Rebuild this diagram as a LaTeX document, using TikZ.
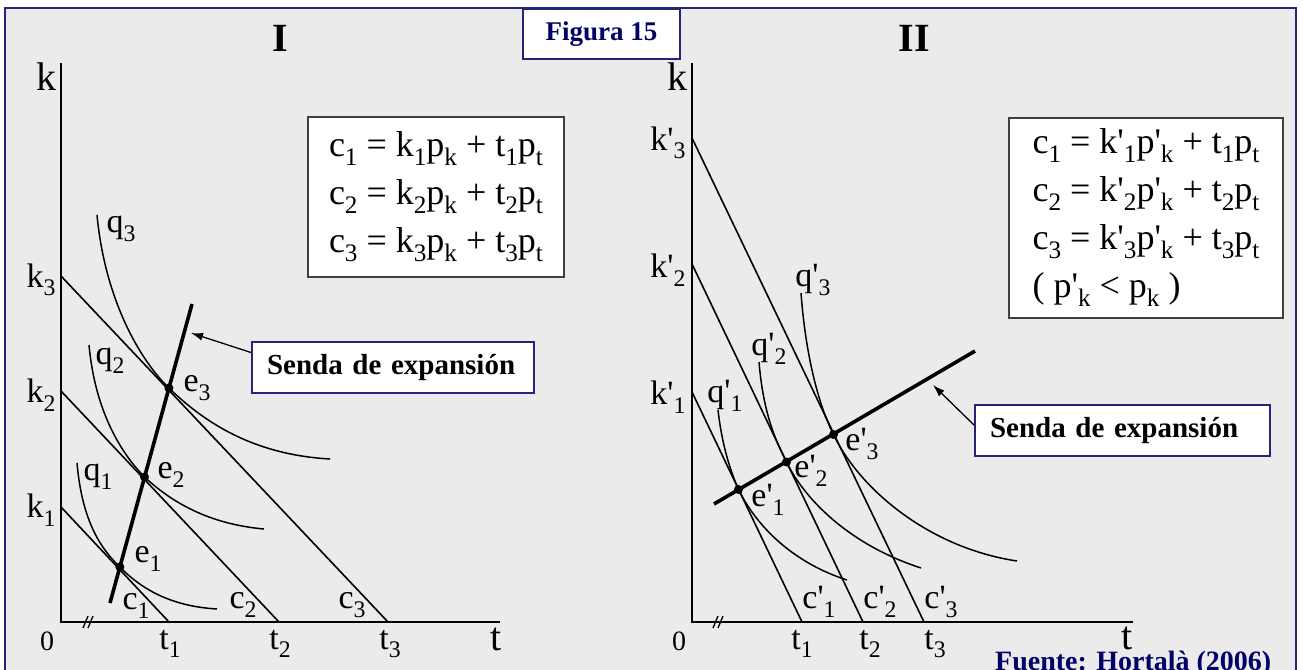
\documentclass[tikz,border=0pt]{standalone}
\usepackage{fontspec}
\newfontfamily\plotfont{Liberation Serif}
\usetikzlibrary{arrows.meta}
\definecolor{framenavy}{RGB}{36,36,120}
\definecolor{textnavy}{RGB}{0,0,102}
\definecolor{panelgray}{RGB}{235,235,235}
\newcommand{\lo}[1]{\raisebox{-0.25em}{\scalebox{0.7}{#1}}}
\tikzset{
	lbl/.style={font=\plotfont\fontsize{34}{40}\selectfont, inner sep=0pt},
	axlbl/.style={font=\plotfont\fontsize{40}{46}\selectfont, inner sep=0pt},
	zerolbl/.style={font=\plotfont\fontsize{28}{30}\selectfont, inner sep=0pt},
	titlelbl/.style={font=\plotfont\bfseries\fontsize{40}{44}\selectfont, inner sep=0pt},
	axisline/.style={line width=2pt},
	budget/.style={line width=1.6pt},
	isoq/.style={line width=1.5pt},
	sendaline/.style={line width=3.6pt},
	eqpt/.style={circle, fill=black, inner sep=0pt, minimum size=9pt},
	eqbox/.style={draw=black!75, line width=2pt, fill=white, align=left, inner sep=0pt, font=\plotfont\fontsize{36}{48}\selectfont},
	sendabox/.style={draw=framenavy, line width=1.3pt, fill=white, inner xsep=15pt, inner ysep=0pt, align=left, minimum height=51pt, font=\plotfont\bfseries\fontsize{29}{34}\selectfont},
	figbox/.style={draw=framenavy, line width=1.3pt, fill=white, inner sep=0pt, text=textnavy, font=\plotfont\bfseries\fontsize{27}{30}\selectfont},
	pointer/.style={->, line width=1.3pt}
}
\begin{document}
\begin{tikzpicture}[x=1pt, y=-1pt, >={Latex[length=12pt,width=8pt]}]
	\useasboundingbox (0,0) rectangle (1303,669);
	\fill[white] (0,0) rectangle (1303,669);
	\draw[framenavy, line width=1.5pt, fill=panelgray] (5,8) rectangle (1296,700);
	\node[figbox, minimum width=157pt, minimum height=50pt] (fig) at (601.5,34) {Figura 15};
	\node[titlelbl] (titI) at (280,38) {I};
	\node[titlelbl] (titII) at (914,38) {II};

	% panel I
	\coordinate (kaxI) at (61,63);
	\coordinate (oI) at (61,622);
	\coordinate (taxI) at (500,622);
	\draw[axisline] (kaxI) -- (oI) -- (taxI);
	\draw[line width=1.3pt] (83,628) -- (88,616) (88,628) -- (93,616);
	\node[axlbl] (klblI) at (46,77) {k};
	\node[zerolbl] (zeroI) at (47,641) {0};
	\node[axlbl] (tlblI) at (496,639) {t};

	\coordinate (k1I) at (61,507);
	\coordinate (k2I) at (61,391);
	\coordinate (k3I) at (61,276);
	\coordinate (t1I) at (169,622);
	\coordinate (t2I) at (279,622);
	\coordinate (t3I) at (388,622);
	\draw[budget] (k1I) -- (t1I);
	\draw[budget] (k2I) -- (t2I);
	\draw[budget] (k3I) -- (t3I);

	\coordinate (e1I) at (119.9,567);
	\coordinate (e2I) at (144.5,477);
	\coordinate (e3I) at (168.9,388);
	\draw[isoq] (77,463) .. controls (82,520) and (100,548) .. (e1I) .. controls (150,598) and (185,607) .. (217,609);
	\draw[isoq] (89,345) .. controls (95,410) and (120,452) .. (e2I) .. controls (180,510) and (220,525) .. (264,529);
	\draw[isoq] (97,215) .. controls (105,300) and (140,360) .. (e3I) .. controls (210,428) and (260,455) .. (330,459);

	\coordinate (pathaI) at (110,603);
	\coordinate (pathbI) at (192,304);
	\draw[sendaline] (pathaI) -- (pathbI);
	\foreach \p in {e1I,e2I,e3I}
		\node[eqpt] at (\p) {};

	\node[lbl] (lk1I) at (41,510) {k\lo{1}};
	\node[lbl] (lk2I) at (41,395) {k\lo{2}};
	\node[lbl] (lk3I) at (41,280) {k\lo{3}};
	\node[lbl] (lt1I) at (170,644) {t\lo{1}};
	\node[lbl] (lt2I) at (280,644) {t\lo{2}};
	\node[lbl] (lt3I) at (390,644) {t\lo{3}};
	\node[lbl] (lq1I) at (98,477) {q\lo{1}};
	\node[lbl] (lq2I) at (110,361) {q\lo{2}};
	\node[lbl] (lq3I) at (121,229) {q\lo{3}};
	\node[lbl] (le1I) at (148,559) {e\lo{1}};
	\node[lbl] (le2I) at (171,475) {e\lo{2}};
	\node[lbl] (le3I) at (197,388) {e\lo{3}};
	\node[lbl] (lc1I) at (136,606) {c\lo{1}};
	\node[lbl] (lc2I) at (243,605) {c\lo{2}};
	\node[lbl] (lc3I) at (352,605) {c\lo{3}};

	\node[eqbox, minimum width=256pt, minimum height=160pt] (eqI) at (436,197)
		{c\lo{1} = k\lo{1}p\lo{k} + t\lo{1}p\lo{t}\\
		 c\lo{2} = k\lo{2}p\lo{k} + t\lo{2}p\lo{t}\\
		 c\lo{3} = k\lo{3}p\lo{k} + t\lo{3}p\lo{t}};

	\node[sendabox, text width=252pt] (sendaI) at (393,367.5) {Senda de expansión};
	\coordinate (tipI) at (191,333);
	\draw[pointer] (sendaI.174) -- (tipI);

	% panel II
	\coordinate (kaxII) at (692,63);
	\coordinate (oII) at (692,622);
	\coordinate (taxII) at (1133,622);
	\draw[axisline] (kaxII) -- (oII) -- (taxII);
	\draw[line width=1.3pt] (713,628) -- (718,616) (718,628) -- (723,616);
	\node[axlbl] (klblII) at (677,77) {k};
	\node[zerolbl] (zeroII) at (679,641) {0};
	\node[axlbl] (tlblII) at (1127,638) {t};

	\coordinate (k1II) at (692,392);
	\coordinate (k2II) at (692,264);
	\coordinate (k3II) at (692,138);
	\coordinate (t1II) at (802,622);
	\coordinate (t2II) at (863,622);
	\coordinate (t3II) at (924,622);
	\draw[budget] (k1II) -- (t1II);
	\draw[budget] (k2II) -- (t2II);
	\draw[budget] (k3II) -- (t3II);

	\coordinate (e1II) at (738.5,489.5);
	\coordinate (e2II) at (786.5,462);
	\coordinate (e3II) at (833.5,434.5);
	\draw[isoq] (718,410) .. controls (722,445) and (730,470) .. (e1II) .. controls (760,533) and (800,565) .. (847,580);
	\draw[isoq] (759,362) .. controls (763,410) and (774,438) .. (e2II) .. controls (805,500) and (850,545) .. (921,568);
	\draw[isoq] (801,293) .. controls (806,360) and (820,408) .. (e3II) .. controls (860,490) and (930,548) .. (1017,561);

	\coordinate (pathaII) at (714,504);
	\coordinate (pathbII) at (975,351);
	\draw[sendaline] (pathaII) -- (pathbII);
	\foreach \p in {e1II,e2II,e3II}
		\node[eqpt] at (\p) {};

	\node[lbl] (lk1II) at (668,397) {k'\lo{1}};
	\node[lbl] (lk2II) at (668,270) {k'\lo{2}};
	\node[lbl] (lk3II) at (668,143) {k'\lo{3}};
	\node[lbl] (lt1II) at (802,644) {t\lo{1}};
	\node[lbl] (lt2II) at (870,644) {t\lo{2}};
	\node[lbl] (lt3II) at (935,644) {t\lo{3}};
	\node[lbl] (lq1II) at (725,396) {q'\lo{1}};
	\node[lbl] (lq2II) at (769,349) {q'\lo{2}};
	\node[lbl] (lq3II) at (813,280) {q'\lo{3}};
	\node[lbl] (le1II) at (768,500) {e'\lo{1}};
	\node[lbl] (le2II) at (811,471) {e'\lo{2}};
	\node[lbl] (le3II) at (862,444) {e'\lo{3}};
	\node[lbl] (lc1II) at (819,602) {c'\lo{1}};
	\node[lbl] (lc2II) at (880,602) {c'\lo{2}};
	\node[lbl] (lc3II) at (941,602) {c'\lo{3}};

	\node[eqbox, minimum width=274pt, minimum height=200pt] (eqII) at (1146,218)
		{c\lo{1} = k'\lo{1}p'\lo{k} + t\lo{1}p\lo{t}\\
		 c\lo{2} = k'\lo{2}p'\lo{k} + t\lo{2}p\lo{t}\\
		 c\lo{3} = k'\lo{3}p'\lo{k} + t\lo{3}p\lo{t}\\
		 ( p'\lo{k} < p\lo{k} )};

	\node[sendabox, text width=265pt] (sendaII) at (1122.5,430.5) {Senda de expansión};
	\coordinate (tipII) at (933,385);
	\draw[pointer] (sendaII.178) -- (tipII);

	\node[anchor=base west, inner sep=0pt, text=textnavy, font=\plotfont\bfseries\fontsize{28}{30}\selectfont] (fuente) at (995,670) {Fuente: Hortalà (2006)};
\end{tikzpicture}
\end{document}
